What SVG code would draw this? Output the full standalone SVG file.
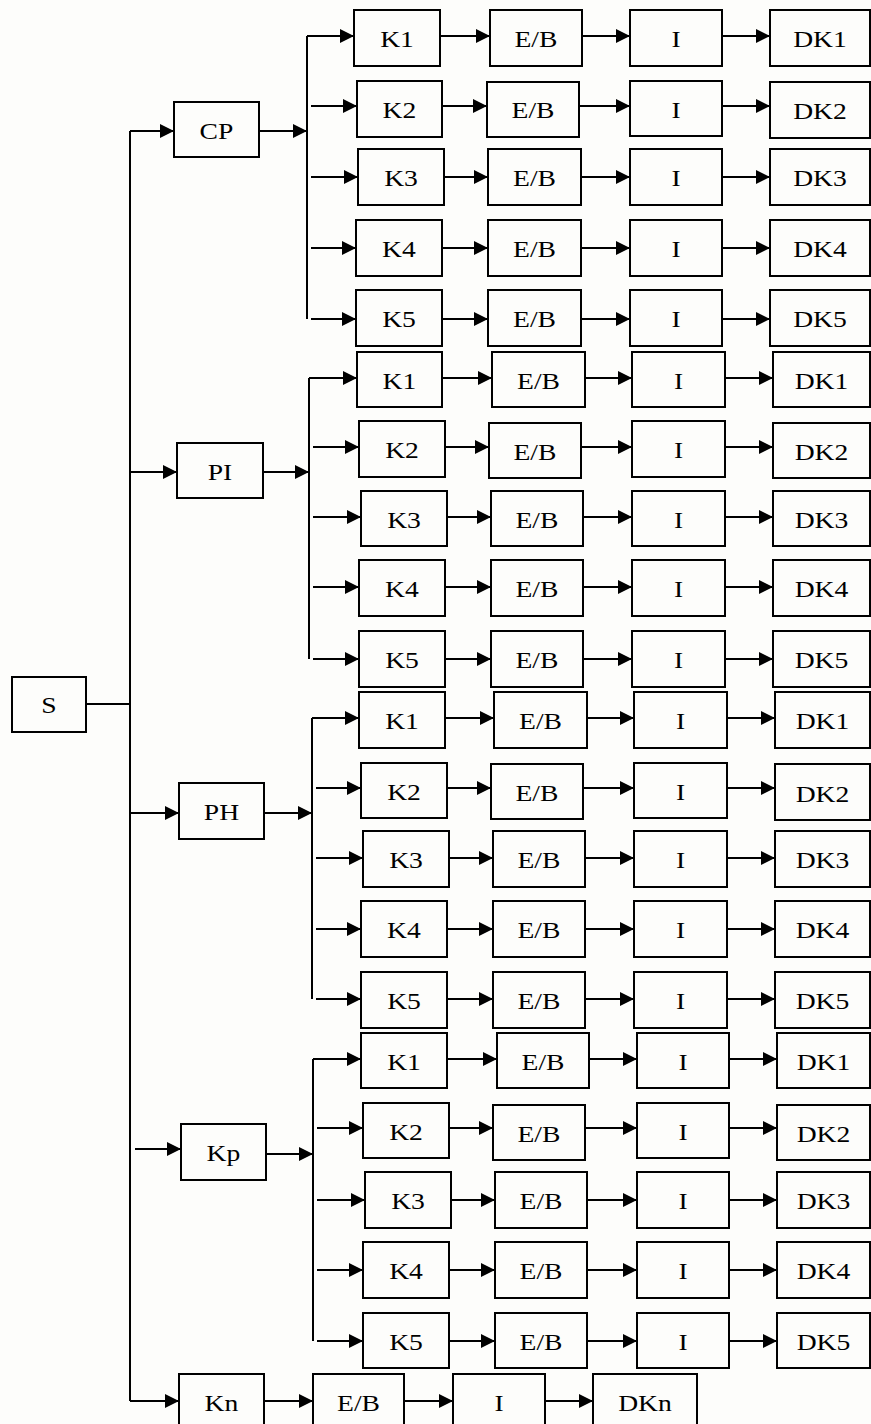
<svg xmlns="http://www.w3.org/2000/svg" width="871" height="1424" viewBox="0 0 871 1424">
<style>
.n rect{fill:none;stroke:#000;stroke-width:2}
.n text{font-family:"Liberation Serif","Times New Roman",serif;font-size:24px;text-anchor:middle;fill:#000;transform-box:fill-box;transform-origin:center;transform:scaleX(1.15)}
#conn path{fill:none;stroke:#000;stroke-width:2}
#conn path.a{marker-end:url(#ah)}
</style>
<defs>
<marker id="ah" markerUnits="userSpaceOnUse" markerWidth="15" markerHeight="14" refX="14" refY="7" orient="auto"><path d="M0,0 L14,7 L0,14 z" fill="#000"/></marker>
</defs>
<rect x="0" y="0" width="871" height="1424" fill="#fdfdfb"/>
<g id="conn">
<path d="M130,131V1401"/>
<path d="M86,704H130"/>
<path class="a" d="M130,131H174"/>
<path class="a" d="M259,131H307"/>
<path d="M307,36V319"/>
<path class="a" d="M307,36H354"/><path class="a" d="M440,36H490"/><path class="a" d="M582,36H630"/><path class="a" d="M722,36H770"/>
<path class="a" d="M311,106H357"/><path class="a" d="M442,106H487"/><path class="a" d="M579,106H630"/><path class="a" d="M722,106H770"/>
<path class="a" d="M311,177H358"/><path class="a" d="M444,177H488"/><path class="a" d="M581,177H630"/><path class="a" d="M722,177H770"/>
<path class="a" d="M311,248H356"/><path class="a" d="M442,248H488"/><path class="a" d="M581,248H630"/><path class="a" d="M722,248H770"/>
<path class="a" d="M311,319H356"/><path class="a" d="M442,319H488"/><path class="a" d="M581,319H630"/><path class="a" d="M722,319H770"/>
<path class="a" d="M130,472H177"/>
<path class="a" d="M263,472H309"/>
<path d="M309,378V659"/>
<path class="a" d="M309,378H357"/><path class="a" d="M442,378H492"/><path class="a" d="M585,378H632"/><path class="a" d="M725,378H773"/>
<path class="a" d="M313,447H359"/><path class="a" d="M445,447H489"/><path class="a" d="M581,447H632"/><path class="a" d="M725,447H773"/>
<path class="a" d="M313,517H361"/><path class="a" d="M447,517H491"/><path class="a" d="M583,517H632"/><path class="a" d="M725,517H773"/>
<path class="a" d="M313,587H359"/><path class="a" d="M445,587H491"/><path class="a" d="M583,587H632"/><path class="a" d="M725,587H773"/>
<path class="a" d="M313,659H359"/><path class="a" d="M445,659H491"/><path class="a" d="M583,659H632"/><path class="a" d="M725,659H773"/>
<path class="a" d="M130,813H179"/>
<path class="a" d="M264,813H312"/>
<path d="M312,718V999"/>
<path class="a" d="M312,718H359"/><path class="a" d="M445,718H494"/><path class="a" d="M587,718H634"/><path class="a" d="M727,718H775"/>
<path class="a" d="M316,788H361"/><path class="a" d="M447,788H491"/><path class="a" d="M583,788H634"/><path class="a" d="M727,788H775"/>
<path class="a" d="M316,858H363"/><path class="a" d="M449,858H493"/><path class="a" d="M585,858H634"/><path class="a" d="M727,858H775"/>
<path class="a" d="M316,929H361"/><path class="a" d="M447,929H493"/><path class="a" d="M585,929H634"/><path class="a" d="M727,929H775"/>
<path class="a" d="M316,999H361"/><path class="a" d="M447,999H493"/><path class="a" d="M585,999H634"/><path class="a" d="M727,999H775"/>
<path class="a" d="M135,1149H181"/>
<path class="a" d="M266,1154H313"/>
<path d="M313,1059V1341"/>
<path class="a" d="M313,1059H361"/><path class="a" d="M447,1059H497"/><path class="a" d="M589,1059H637"/><path class="a" d="M729,1059H777"/>
<path class="a" d="M317,1128H363"/><path class="a" d="M449,1128H493"/><path class="a" d="M585,1128H637"/><path class="a" d="M729,1128H777"/>
<path class="a" d="M317,1200H365"/><path class="a" d="M451,1200H495"/><path class="a" d="M587,1200H637"/><path class="a" d="M729,1200H777"/>
<path class="a" d="M317,1270H363"/><path class="a" d="M449,1270H495"/><path class="a" d="M587,1270H637"/><path class="a" d="M729,1270H777"/>
<path class="a" d="M317,1341H363"/><path class="a" d="M449,1341H495"/><path class="a" d="M587,1341H637"/><path class="a" d="M729,1341H777"/>
<path class="a" d="M130,1401H179"/>
<path class="a" d="M264,1401H313"/>
<path class="a" d="M404,1401H453"/>
<path class="a" d="M545,1401H593"/>
</g>
<g id="s" class="n"><rect x="12" y="677" width="74" height="55"/><text x="49" y="713">S</text></g>
<g id="cp" class="n"><rect x="174" y="102" width="85" height="55"/><text x="216.5" y="139">CP</text></g>
<g id="pi" class="n"><rect x="177" y="443" width="86" height="55"/><text x="220" y="480">PI</text></g>
<g id="ph" class="n"><rect x="179" y="783" width="85" height="56"/><text x="221.5" y="820">PH</text></g>
<g id="kp" class="n"><rect x="181" y="1124" width="85" height="56"/><text x="223.5" y="1161">Kp</text></g>
<g id="kn" class="n"><rect x="179" y="1374" width="85" height="60"/><text x="221.5" y="1411">Kn</text></g>
<g id="kn-eb" class="n"><rect x="313" y="1374" width="91" height="60"/><text x="358.5" y="1411">E/B</text></g>
<g id="kn-i" class="n"><rect x="453" y="1374" width="92" height="60"/><text x="499" y="1411">I</text></g>
<g id="kn-dk" class="n"><rect x="593" y="1374" width="104" height="60"/><text x="645" y="1411">DKn</text></g>

<g id="cp-k1" class="n"><rect x="354" y="10" width="86" height="56"/><text x="397" y="47">K1</text></g>
<g id="cp-eb1" class="n"><rect x="490" y="10" width="92" height="56"/><text x="536" y="47">E/B</text></g>
<g id="cp-i1" class="n"><rect x="630" y="10" width="92" height="56"/><text x="676" y="47">I</text></g>
<g id="cp-dk1" class="n"><rect x="770" y="10" width="100" height="56"/><text x="820" y="47">DK1</text></g>
<g id="cp-k2" class="n"><rect x="357" y="81" width="85" height="56"/><text x="399.5" y="118">K2</text></g>
<g id="cp-eb2" class="n"><rect x="487" y="82" width="92" height="55"/><text x="533" y="118">E/B</text></g>
<g id="cp-i2" class="n"><rect x="630" y="81" width="92" height="55"/><text x="676" y="118">I</text></g>
<g id="cp-dk2" class="n"><rect x="770" y="82" width="100" height="56"/><text x="820" y="119">DK2</text></g>
<g id="cp-k3" class="n"><rect x="358" y="149" width="86" height="56"/><text x="401" y="186">K3</text></g>
<g id="cp-eb3" class="n"><rect x="488" y="149" width="93" height="56"/><text x="534.5" y="186">E/B</text></g>
<g id="cp-i3" class="n"><rect x="630" y="149" width="92" height="56"/><text x="676" y="186">I</text></g>
<g id="cp-dk3" class="n"><rect x="770" y="149" width="100" height="56"/><text x="820" y="186">DK3</text></g>
<g id="cp-k4" class="n"><rect x="356" y="220" width="86" height="56"/><text x="399" y="257">K4</text></g>
<g id="cp-eb4" class="n"><rect x="488" y="220" width="93" height="56"/><text x="534.5" y="257">E/B</text></g>
<g id="cp-i4" class="n"><rect x="630" y="220" width="92" height="56"/><text x="676" y="257">I</text></g>
<g id="cp-dk4" class="n"><rect x="770" y="220" width="100" height="56"/><text x="820" y="257">DK4</text></g>
<g id="cp-k5" class="n"><rect x="356" y="290" width="86" height="56"/><text x="399" y="327">K5</text></g>
<g id="cp-eb5" class="n"><rect x="488" y="290" width="93" height="56"/><text x="534.5" y="327">E/B</text></g>
<g id="cp-i5" class="n"><rect x="630" y="290" width="92" height="56"/><text x="676" y="327">I</text></g>
<g id="cp-dk5" class="n"><rect x="770" y="290" width="100" height="56"/><text x="820" y="327">DK5</text></g>

<g id="pi-k1" class="n"><rect x="357" y="352" width="85" height="55"/><text x="399.5" y="389">K1</text></g>
<g id="pi-eb1" class="n"><rect x="492" y="352" width="93" height="55"/><text x="538.5" y="389">E/B</text></g>
<g id="pi-i1" class="n"><rect x="632" y="352" width="93" height="55"/><text x="678.5" y="389">I</text></g>
<g id="pi-dk1" class="n"><rect x="773" y="352" width="97" height="55"/><text x="821.5" y="389">DK1</text></g>
<g id="pi-k2" class="n"><rect x="359" y="421" width="86" height="56"/><text x="402" y="458">K2</text></g>
<g id="pi-eb2" class="n"><rect x="489" y="423" width="92" height="55"/><text x="535" y="460">E/B</text></g>
<g id="pi-i2" class="n"><rect x="632" y="421" width="93" height="56"/><text x="678.5" y="458">I</text></g>
<g id="pi-dk2" class="n"><rect x="773" y="423" width="97" height="55"/><text x="821.5" y="460">DK2</text></g>
<g id="pi-k3" class="n"><rect x="361" y="491" width="86" height="55"/><text x="404" y="528">K3</text></g>
<g id="pi-eb3" class="n"><rect x="491" y="491" width="92" height="55"/><text x="537" y="528">E/B</text></g>
<g id="pi-i3" class="n"><rect x="632" y="491" width="93" height="55"/><text x="678.5" y="528">I</text></g>
<g id="pi-dk3" class="n"><rect x="773" y="491" width="97" height="55"/><text x="821.5" y="528">DK3</text></g>
<g id="pi-k4" class="n"><rect x="359" y="560" width="86" height="56"/><text x="402" y="597">K4</text></g>
<g id="pi-eb4" class="n"><rect x="491" y="560" width="92" height="56"/><text x="537" y="597">E/B</text></g>
<g id="pi-i4" class="n"><rect x="632" y="560" width="93" height="56"/><text x="678.5" y="597">I</text></g>
<g id="pi-dk4" class="n"><rect x="773" y="560" width="97" height="56"/><text x="821.5" y="597">DK4</text></g>
<g id="pi-k5" class="n"><rect x="359" y="631" width="86" height="56"/><text x="402" y="668">K5</text></g>
<g id="pi-eb5" class="n"><rect x="491" y="631" width="92" height="56"/><text x="537" y="668">E/B</text></g>
<g id="pi-i5" class="n"><rect x="632" y="631" width="93" height="56"/><text x="678.5" y="668">I</text></g>
<g id="pi-dk5" class="n"><rect x="773" y="631" width="97" height="56"/><text x="821.5" y="668">DK5</text></g>

<g id="ph-k1" class="n"><rect x="359" y="692" width="86" height="56"/><text x="402" y="729">K1</text></g>
<g id="ph-eb1" class="n"><rect x="494" y="692" width="93" height="56"/><text x="540.5" y="729">E/B</text></g>
<g id="ph-i1" class="n"><rect x="634" y="692" width="93" height="56"/><text x="680.5" y="729">I</text></g>
<g id="ph-dk1" class="n"><rect x="775" y="692" width="95" height="56"/><text x="822.5" y="729">DK1</text></g>
<g id="ph-k2" class="n"><rect x="361" y="763" width="86" height="55"/><text x="404" y="800">K2</text></g>
<g id="ph-eb2" class="n"><rect x="491" y="764" width="92" height="55"/><text x="537" y="801">E/B</text></g>
<g id="ph-i2" class="n"><rect x="634" y="763" width="93" height="55"/><text x="680.5" y="800">I</text></g>
<g id="ph-dk2" class="n"><rect x="775" y="764" width="95" height="56"/><text x="822.5" y="802">DK2</text></g>
<g id="ph-k3" class="n"><rect x="363" y="831" width="86" height="56"/><text x="406" y="868">K3</text></g>
<g id="ph-eb3" class="n"><rect x="493" y="831" width="92" height="56"/><text x="539" y="868">E/B</text></g>
<g id="ph-i3" class="n"><rect x="634" y="831" width="93" height="56"/><text x="680.5" y="868">I</text></g>
<g id="ph-dk3" class="n"><rect x="775" y="831" width="95" height="56"/><text x="822.5" y="868">DK3</text></g>
<g id="ph-k4" class="n"><rect x="361" y="901" width="86" height="56"/><text x="404" y="938">K4</text></g>
<g id="ph-eb4" class="n"><rect x="493" y="901" width="92" height="56"/><text x="539" y="938">E/B</text></g>
<g id="ph-i4" class="n"><rect x="634" y="901" width="93" height="56"/><text x="680.5" y="938">I</text></g>
<g id="ph-dk4" class="n"><rect x="775" y="901" width="95" height="56"/><text x="822.5" y="938">DK4</text></g>
<g id="ph-k5" class="n"><rect x="361" y="972" width="86" height="56"/><text x="404" y="1009">K5</text></g>
<g id="ph-eb5" class="n"><rect x="493" y="972" width="92" height="56"/><text x="539" y="1009">E/B</text></g>
<g id="ph-i5" class="n"><rect x="634" y="972" width="93" height="56"/><text x="680.5" y="1009">I</text></g>
<g id="ph-dk5" class="n"><rect x="775" y="972" width="95" height="56"/><text x="822.5" y="1009">DK5</text></g>

<g id="kp-k1" class="n"><rect x="361" y="1033" width="86" height="55"/><text x="404" y="1070">K1</text></g>
<g id="kp-eb1" class="n"><rect x="497" y="1033" width="92" height="55"/><text x="543" y="1070">E/B</text></g>
<g id="kp-i1" class="n"><rect x="637" y="1033" width="92" height="55"/><text x="683" y="1070">I</text></g>
<g id="kp-dk1" class="n"><rect x="777" y="1033" width="93" height="55"/><text x="823.5" y="1070">DK1</text></g>
<g id="kp-k2" class="n"><rect x="363" y="1103" width="86" height="55"/><text x="406" y="1140">K2</text></g>
<g id="kp-eb2" class="n"><rect x="493" y="1105" width="92" height="55"/><text x="539" y="1142">E/B</text></g>
<g id="kp-i2" class="n"><rect x="637" y="1103" width="92" height="55"/><text x="683" y="1140">I</text></g>
<g id="kp-dk2" class="n"><rect x="777" y="1105" width="93" height="55"/><text x="823.5" y="1142">DK2</text></g>
<g id="kp-k3" class="n"><rect x="365" y="1172" width="86" height="56"/><text x="408" y="1209">K3</text></g>
<g id="kp-eb3" class="n"><rect x="495" y="1172" width="92" height="56"/><text x="541" y="1209">E/B</text></g>
<g id="kp-i3" class="n"><rect x="637" y="1172" width="92" height="56"/><text x="683" y="1209">I</text></g>
<g id="kp-dk3" class="n"><rect x="777" y="1172" width="93" height="56"/><text x="823.5" y="1209">DK3</text></g>
<g id="kp-k4" class="n"><rect x="363" y="1242" width="86" height="56"/><text x="406" y="1279">K4</text></g>
<g id="kp-eb4" class="n"><rect x="495" y="1242" width="92" height="56"/><text x="541" y="1279">E/B</text></g>
<g id="kp-i4" class="n"><rect x="637" y="1242" width="92" height="56"/><text x="683" y="1279">I</text></g>
<g id="kp-dk4" class="n"><rect x="777" y="1242" width="93" height="56"/><text x="823.5" y="1279">DK4</text></g>
<g id="kp-k5" class="n"><rect x="363" y="1313" width="86" height="55"/><text x="406" y="1350">K5</text></g>
<g id="kp-eb5" class="n"><rect x="495" y="1313" width="92" height="55"/><text x="541" y="1350">E/B</text></g>
<g id="kp-i5" class="n"><rect x="637" y="1313" width="92" height="55"/><text x="683" y="1350">I</text></g>
<g id="kp-dk5" class="n"><rect x="777" y="1313" width="93" height="55"/><text x="823.5" y="1350">DK5</text></g>
</svg>
